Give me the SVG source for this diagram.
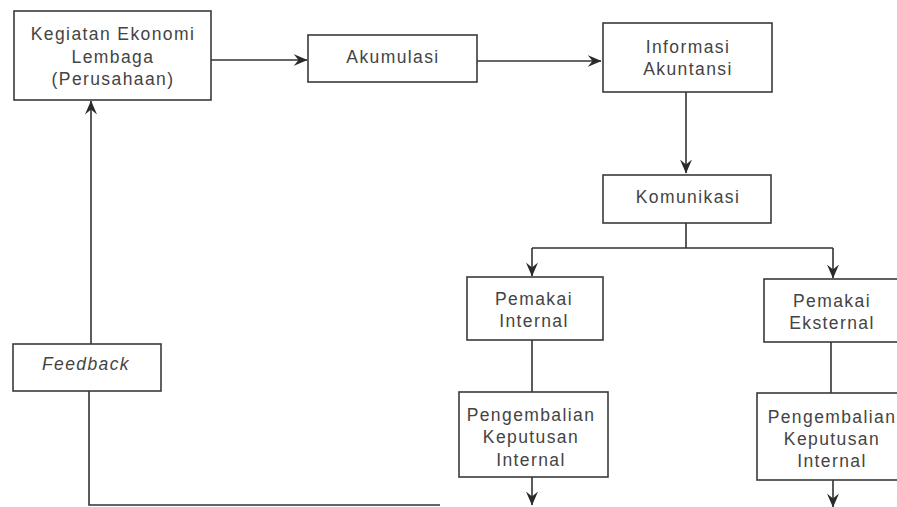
<svg xmlns="http://www.w3.org/2000/svg" width="897" height="507" viewBox="0 0 897 507">
<defs>
<marker id="ah" viewBox="0 0 14 12" refX="13.5" refY="6" markerWidth="14" markerHeight="12" markerUnits="userSpaceOnUse" orient="auto">
<path d="M0,0 L14,6 L0,12 L5,6 z" fill="#2a2a2a"/>
</marker>
<style>
.box{fill:#fff;stroke:#3a3a3a;stroke-width:1.6}
.t{font-family:"Liberation Sans",Arial,sans-serif;font-size:17.5px;letter-spacing:1.4px;fill:#444;text-anchor:middle}
.it{font-style:italic}
.c{fill:none;stroke:#333;stroke-width:1.6}
</style>
</defs>
<rect width="897" height="507" fill="#fff"/>
<g id="connectors">
<path class="c" d="M211,60 H307" marker-end="url(#ah)"/>
<path class="c" d="M477,61 H601" marker-end="url(#ah)"/>
<path class="c" d="M686,92 V173" marker-end="url(#ah)"/>
<path class="c" d="M686,223 V248 M532,248 H833"/>
<path class="c" d="M532,248 V276" marker-end="url(#ah)"/>
<path class="c" d="M833,248 V278" marker-end="url(#ah)"/>
<path class="c" d="M532,340 V392"/>
<path class="c" d="M831,342 V393"/>
<path class="c" d="M532,477 V505" marker-end="url(#ah)"/>
<path class="c" d="M833,480 V507" marker-end="url(#ah)"/>
<path class="c" d="M89,391 V505 H440"/>
<path class="c" d="M91,344 V101" marker-end="url(#ah)"/>
</g>
<g id="kegiatan">
<rect class="box" x="14" y="11" width="197" height="89"/>
<text class="t" x="113" y="40">Kegiatan Ekonomi</text>
<text class="t" x="113" y="63">Lembaga</text>
<text class="t" x="113" y="85">(Perusahaan)</text>
</g>
<g id="akumulasi">
<rect class="box" x="308" y="35" width="169" height="47"/>
<text class="t" x="393" y="63">Akumulasi</text>
</g>
<g id="informasi">
<rect class="box" x="603" y="23" width="169" height="69"/>
<text class="t" x="688" y="53">Informasi</text>
<text class="t" x="688" y="75">Akuntansi</text>
</g>
<g id="komunikasi">
<rect class="box" x="603" y="175" width="168" height="48"/>
<text class="t" x="688" y="203">Komunikasi</text>
</g>
<g id="pemakai-internal">
<rect class="box" x="467" y="277" width="136" height="63"/>
<text class="t" x="534" y="305">Pemakai</text>
<text class="t" x="534" y="327">Internal</text>
</g>
<g id="pemakai-eksternal">
<rect class="box" x="764" y="279" width="140" height="63"/>
<text class="t" x="832" y="307">Pemakai</text>
<text class="t" x="832" y="329">Eksternal</text>
</g>
<g id="pengembalian-internal">
<rect class="box" x="459" y="392" width="149" height="85"/>
<text class="t" x="531" y="421">Pengembalian</text>
<text class="t" x="531" y="443">Keputusan</text>
<text class="t" x="531" y="466">Internal</text>
</g>
<g id="pengembalian-eksternal">
<rect class="box" x="757" y="393" width="150" height="87"/>
<text class="t" x="832" y="423">Pengembalian</text>
<text class="t" x="832" y="445">Keputusan</text>
<text class="t" x="832" y="467">Internal</text>
</g>
<g id="feedback">
<rect class="box" x="13" y="344" width="148" height="47"/>
<text class="t it" x="86" y="370">Feedback</text>
</g>
</svg>
